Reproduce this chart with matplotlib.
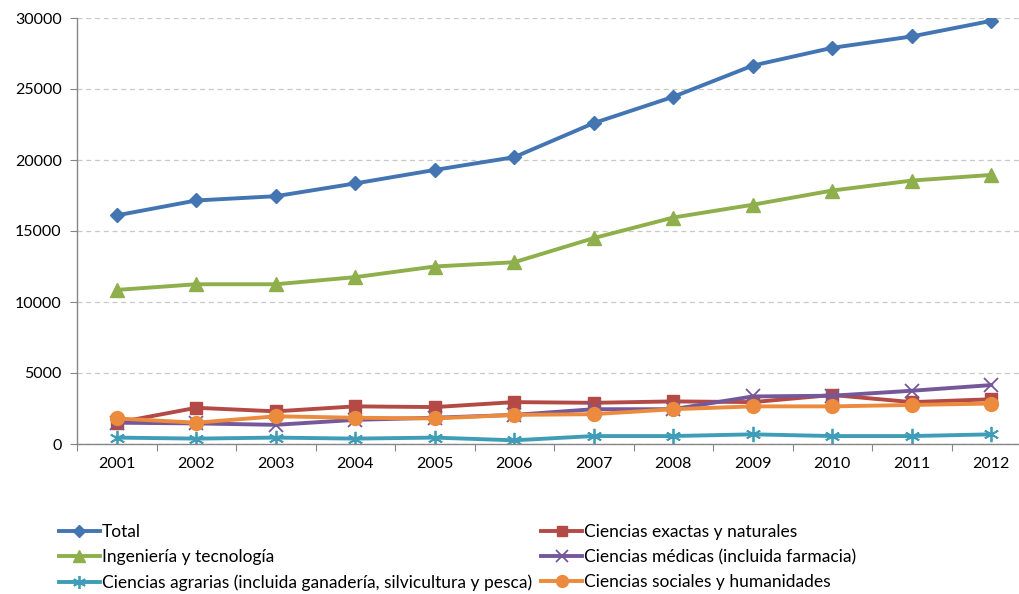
import matplotlib
matplotlib.use("Agg")
import matplotlib.pyplot as plt
import numpy as np

years = ["2001", "2002", "2003", "2004", "2005", "2006", "2007", "2008", "2009", "2010", "2011", "2012"]
total = [16100, 17150, 17450, 18350, 19300, 20200, 22600, 24450, 26650, 27900, 28700, 29800]
exactas = [1500, 2550, 2300, 2650, 2600, 2950, 2900, 3000, 2950, 3450, 2950, 3150]
ingenieria = [10850, 11250, 11250, 11750, 12500, 12800, 14500, 15950, 16850, 17850, 18550, 18950]
medicas = [1500, 1450, 1350, 1700, 1850, 2050, 2450, 2450, 3350, 3400, 3750, 4150]
agrarias = [450, 380, 450, 380, 450, 260, 560, 560, 680, 560, 560, 680]
sociales = [1800, 1500, 1950, 1850, 1800, 2050, 2100, 2450, 2650, 2650, 2750, 2850]

labels = ["Total", "Ciencias exactas y naturales", "Ingeniería y tecnología",
          "Ciencias médicas (incluida farmacia)",
          "Ciencias agrarias (incluida ganadería, silvicultura y pesca)",
          "Ciencias sociales y humanidades"]

plt.rcParams['font.family'] = ['Lato', 'DejaVu Sans']

W, H = 1019, 594
fig = plt.figure(figsize=(W / 100, H / 100), dpi=100)
left_px, right_px, top_px, bot_px = 77, 1031, 18, 444
ax = fig.add_axes([left_px / W, 1 - bot_px / H, (right_px - left_px) / W, (bot_px - top_px) / H])

x = np.arange(len(years))
series = [
    (total, "#4375B3", "D", 7, labels[0]),
    (exactas, "#B44A46", "s", 9, labels[1]),
    (ingenieria, "#8EAF4C", "^", 10, labels[2]),
    (medicas, "#74589A", "x", 10, labels[3]),
    (agrarias, "#3F9DB7", (6, 2, 0), 11, labels[4]),
    (sociales, "#EC8A3D", "o", 10, labels[5]),
]
handles = {}
for vals, col, mk, ms, lab in series:
    kw = dict(color=col, lw=2.8, marker=mk, ms=ms, markerfacecolor=col, markeredgecolor=col, label=lab)
    if mk in ("x",) or isinstance(mk, tuple):
        kw["markeredgewidth"] = 1.3
    ln, = ax.plot(x, vals, **kw)
    handles[lab] = ln

ax.set_xlim(-0.5, len(years) - 0.5)
ax.set_ylim(0, 30000)
ax.set_yticks(np.arange(0, 30001, 5000))
ax.set_yticklabels([str(v) for v in range(0, 30001, 5000)], fontsize=11.5)
ax.yaxis.grid(True, color="#C8C8C8", linestyle=(0, (4, 3)), lw=0.9)
ax.set_axisbelow(True)

ax.set_xticks(np.arange(-0.5, len(years), 1.0))
ax.set_xticklabels([])
ax.set_xticks(x, minor=True)
ax.set_xticklabels(years, minor=True, fontsize=11.5)
ax.tick_params(axis="x", which="minor", length=0, pad=9)
ax.tick_params(axis="x", which="major", length=5, color="#868686", direction="out")
ax.tick_params(axis="y", length=5, color="#868686", direction="out", pad=6)

for s in ["top", "right"]:
    ax.spines[s].set_visible(False)
for s in ["left", "bottom"]:
    ax.spines[s].set_color("#868686")
    ax.spines[s].set_linewidth(1.0)

order = [labels[0], labels[2], labels[4], labels[1], labels[3], labels[5]]
leg = fig.legend([handles[l] for l in order], order, ncol=2, loc="upper left",
                 bbox_to_anchor=(59 / W, 1 - 524 / H), frameon=False, fontsize=12.5,
                 handlelength=2.35, handletextpad=0.1, columnspacing=0.55,
                 labelspacing=0.52, borderaxespad=0, borderpad=0)
for h in leg.legend_handles:
    h.set_markersize(h.get_markersize() * 0.85)

fig.savefig("out.png", dpi=100)
